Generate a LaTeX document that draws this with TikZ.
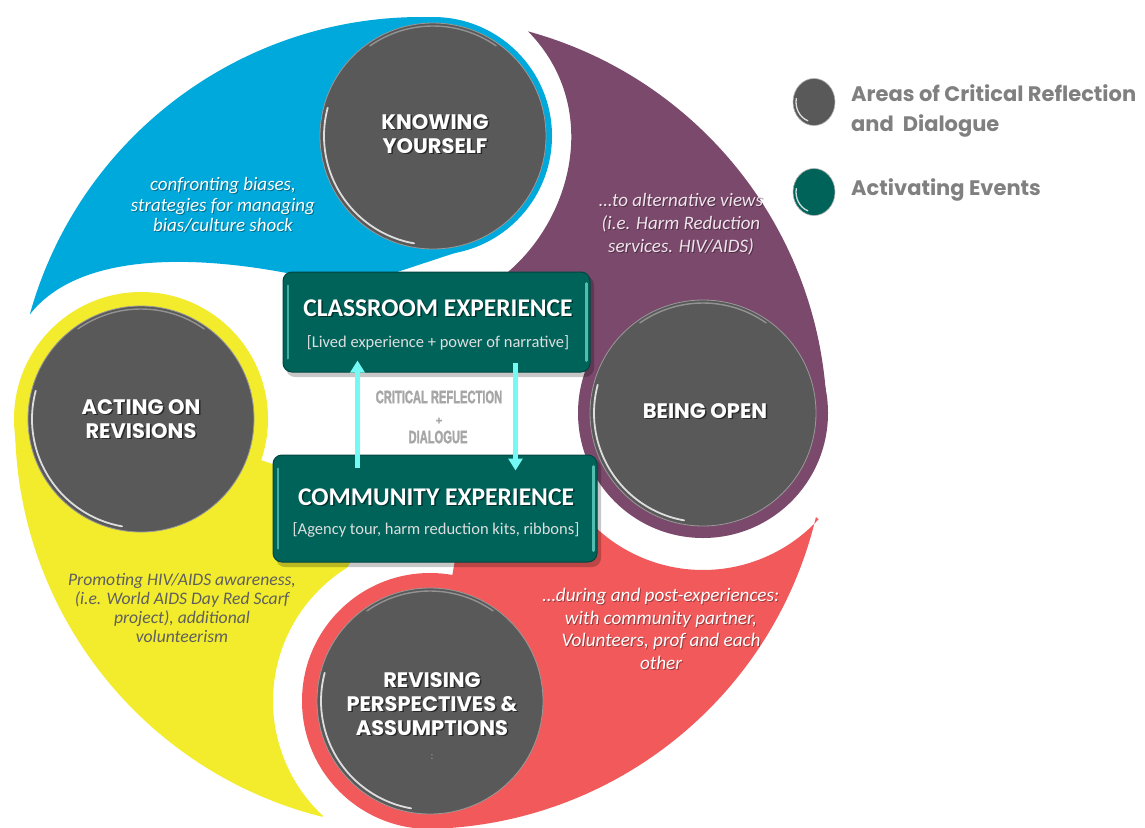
\documentclass[tikz,border=0pt]{standalone}
\usepackage{fontspec}
\usepackage{graphicx}
\usetikzlibrary{calc,arrows.meta,shapes.geometric}
\setmainfont{Carlito}
\newfontfamily\gothic{Poppins}
\newfontfamily\condf{Liberation Sans}[BoldFeatures={FakeBold=2.2}]
\definecolor{cBlue}{RGB}{0,169,219}
\definecolor{cPurple}{RGB}{123,73,108}
\definecolor{cRed}{RGB}{241,89,90}
\definecolor{cYellow}{RGB}{242,236,44}
\definecolor{cGray}{RGB}{89,89,89}
\definecolor{cTeal}{RGB}{0,99,90}
\definecolor{cTealDark}{RGB}{0,70,64}
\definecolor{cTealLight}{RGB}{95,205,192}
\definecolor{cCyan}{RGB}{115,250,245}
\definecolor{cLegend}{RGB}{128,128,128}
\definecolor{cCrit}{RGB}{166,166,166}
\definecolor{cSub}{RGB}{222,222,222}
\definecolor{cYText}{RGB}{95,95,95}
\definecolor{cPText}{RGB}{240,228,236}
\tikzset{
  gcirc/.style={circle, fill=cGray, draw=black!40, line width=0.8pt, minimum size=226pt, inner sep=0pt},
  lbl/.style={font=\gothic\bfseries\fontsize{21}{24}\selectfont, align=center, text=white, inner sep=0pt},
  lblsh/.style={lbl, text=black, opacity=0.55},
  desc/.style={align=center, text=white, inner sep=0pt},
  descsh/.style={desc, text=black, opacity=0.35},
  tbox/.style={rounded corners=9pt, fill=cTeal, draw=cTealDark, line width=1pt, inner sep=0pt},
  ttl/.style={font=\bfseries\fontsize{25.5}{29}\selectfont, text=white, inner sep=0pt},
  ttlsh/.style={ttl, text=black, opacity=0.5},
  subt/.style={font=\fontsize{16.5}{19}\selectfont, text=cSub, inner sep=0pt},
  arr/.style={draw=cCyan, line width=4.5pt, -{Triangle[width=14pt,length=12pt]}},
  crit/.style={font=\condf\bfseries\fontsize{18}{20}\selectfont, text=cCrit, inner sep=0pt},
  leg/.style={font=\gothic\bfseries\fontsize{21}{25}\selectfont, text=cLegend, anchor=west, inner sep=0pt},
  ball/.style={ellipse, minimum width=42pt, minimum height=47pt, inner sep=0pt, draw=black!30, line width=0.6pt},
  shine/.style={white, opacity=0.8, line width=1.8pt, line cap=round},
  topshine/.style={white, opacity=0.35, line width=1.4pt, line cap=round},
}
\begin{document}
\begin{tikzpicture}[x=1pt,y=-1pt]
\useasboundingbox (0,0) rectangle (1145,827);
\fill[white] (0,0) rectangle (1145,827);
% key points
\coordinate (O) at (421,423);
\coordinate (K) at (433,136);
\coordinate (B) at (703,413);
\coordinate (R) at (430,701);
\coordinate (A) at (141,419);
\coordinate (T1) at ($(O)+(-164.5:406)$);
\coordinate (T2) at ($(O)+(-74.7:406)$);
\coordinate (T3) at ($(O)+(13.4:406)$);
\coordinate (T4) at ($(O)+(104.1:406)$);
% swirl regions
\fill[cBlue] (T1) arc[start angle=-164.5, end angle=-87.6, radius=406] -- (K) -- (470,248) -- (385,276) -- (380,295) -- (300,295) -- (292,274) .. controls (200,256) and (80,250) .. (T1) -- cycle;
\fill[cPurple] (T2) arc[start angle=-74.7, end angle=-2, radius=406] -- (B) -- (585,395) -- (585,285) -- (495,282) .. controls (570,230) and (605,110) .. (T2) -- cycle;
\fill[cRed] (T3) arc[start angle=13.4, end angle=88.1, radius=406] -- (R) -- (455,560) -- (455,500) -- (580,500) -- ($(B)+(133.2:157)$) arc[start angle=133.2, end angle=42.6, radius=157] -- cycle;
\fill[cYellow] (T4) arc[start angle=104.1, end angle=179.2, radius=406] -- (A) -- (290,470) -- (360,545) -- ($(R)+(238.2:157)$) arc[start angle=238.2, end angle=132.9, radius=157] -- cycle;
% coloured rings
\fill[cBlue] (K) circle[radius=119];
\fill[cPurple] (B) circle[radius=125];
\fill[cRed] (R) circle[radius=128];
\fill[cYellow] (A) circle[radius=127];
% grey circles
\node[gcirc] (Kc) at (K) {};
\node[gcirc] (Bc) at (B) {};
\node[gcirc] (Rc) at (R) {};
\node[gcirc] (Ac) at (A) {};
\foreach \c in {K,B,R,A}{
  \draw[shine] ($(\c)+(100:109)$) arc[start angle=100, end angle=195, radius=109];
  \draw[topshine] ($(\c)+(235:110)$) arc[start angle=235, end angle=305, radius=110];
}
% circle labels
\node[lblsh] (Ks) at (436.5,135.5) {KNOWING\\YOURSELF};
\node[lbl] (Kt) at (435,134) {KNOWING\\YOURSELF};
\node[lblsh] (As) at (142.5,420.5) {ACTING ON\\REVISIONS};
\node[lbl] (At) at (141,419) {ACTING ON\\REVISIONS};
\node[lblsh] (Bs) at (706.5,412.5) {BEING OPEN};
\node[lbl] (Bt) at (705,411) {BEING OPEN};
\node[lblsh] (Rs) at (433.5,705.5) {REVISING\\PERSPECTIVES \&\\ASSUMPTIONS};
\node[lbl] (Rt) at (432,704) {REVISING\\PERSPECTIVES \&\\ASSUMPTIONS};
\node[font=\fontsize{11}{12}\selectfont, text=gray!80, inner sep=0pt] (Rcol) at (432,757) {:};
% descriptions
\node[descsh, font=\itshape\fontsize{19}{20.8}\selectfont] (d1s) at (224,206) {confronting biases,\\strategies for managing\\bias/culture shock};
\node[desc, font=\itshape\fontsize{19}{20.8}\selectfont] (d1) at (223,205) {confronting biases,\\strategies for managing\\bias/culture shock};
\node[descsh, font=\itshape\fontsize{19}{22.8}\selectfont] (d2s) at (682,225) {\ldots to alternative views\\(i.e. Harm Reduction\\services. HIV/AIDS)};
\node[desc, font=\itshape\fontsize{19}{22.8}\selectfont, text=cPText] (d2) at (681,224) {\ldots to alternative views\\(i.e. Harm Reduction\\services. HIV/AIDS)};
\node[desc, font=\itshape\fontsize{17.6}{19.2}\selectfont, text=cYText] (d3) at (182,608) {Promoting HIV/AIDS awareness,\\(i.e. World AIDS Day Red Scarf\\project), additional\\volunteerism};
\node[descsh, font=\itshape\fontsize{19.2}{22.6}\selectfont] (d4s) at (662,630) {\ldots during and post-experiences:\\with community partner,\\Volunteers, prof and each\\other};
\node[desc, font=\itshape\fontsize{19.2}{22.6}\selectfont] (d4) at (661,629) {\ldots during and post-experiences:\\with community partner,\\Volunteers, prof and each\\other};
% boxes
\fill[black, opacity=0.22, rounded corners=9pt] (286,276) rectangle (594,377);
\fill[black, opacity=0.22, rounded corners=9pt] (276,459) rectangle (601,567);
\node[tbox, minimum width=307pt, minimum height=100pt] (CB) at (436.5,322) {};
\node[tbox, minimum width=324pt, minimum height=107pt] (CE) at (435,508.5) {};
\draw[cTealLight, line width=2pt, opacity=0.7, line cap=round] ([shift={(5,14)}]CB.north west) -- ([shift={(5,-14)}]CB.south west);
\draw[cTealLight, line width=3pt, opacity=0.85, line cap=round] ([shift={(-4,12)}]CB.north east) -- ([shift={(-4,-12)}]CB.south east);
\draw[cTealLight, line width=2pt, opacity=0.7, line cap=round] ([shift={(5,14)}]CE.north west) -- ([shift={(5,-14)}]CE.south west);
\draw[cTealLight, line width=3pt, opacity=0.85, line cap=round] ([shift={(-4,12)}]CE.north east) -- ([shift={(-4,-12)}]CE.south east);
\node[ttlsh] (CBts) at (439.5,309.5) {CLASSROOM EXPERIENCE};
\node[ttl] (CBt) at (438,308) {CLASSROOM EXPERIENCE};
\node[subt] (CBs) at (438,343) {[Lived experience + power of narrative]};
\node[ttlsh] (CEts) at (437.5,498.5) {COMMUNITY EXPERIENCE};
\node[ttl] (CEt) at (436,497) {COMMUNITY EXPERIENCE};
\node[subt] (CEs) at (436,530) {[Agency tour, harm reduction kits, ribbons]};
% arrows
\draw[arr] ([shift={(85,13)}]CE.north west) -- ([shift={(75,-12)}]CB.south west);
\draw[arr] ([shift={(233,-10)}]CB.south west) -- ([shift={(243,16)}]CE.north west);
% centre text
\node[crit] (cr1) at (439,397) {\scalebox{0.62}[1]{CRITICAL REFLECTION}};
\node[crit, font=\condf\bfseries\fontsize{11}{12}\selectfont] (cr2) at (439,421) {+};
\node[crit] (cr3) at (438,437) {\scalebox{0.62}[1]{DIALOGUE}};
% legend
\node[ball, fill=cGray] (LB1) at (814,102) {};
\node[ball, fill=cTeal] (LB2) at (814,192) {};
\draw[shine, line width=1.3pt] ($(LB1)+(110:18 and 20)$) arc[start angle=110, end angle=190, x radius=18, y radius=20];
\draw[shine, line width=1.3pt] ($(LB2)+(110:18 and 20)$) arc[start angle=110, end angle=190, x radius=18, y radius=20];
\node[leg] (lg1) at (851,93) {Areas of Critical Reflection};
\node[leg] (lg2) at (851,126) {and\ \ Dialogue};
\node[leg] (lg3) at (851,190) {Activating Events};
\end{tikzpicture}
\end{document}
